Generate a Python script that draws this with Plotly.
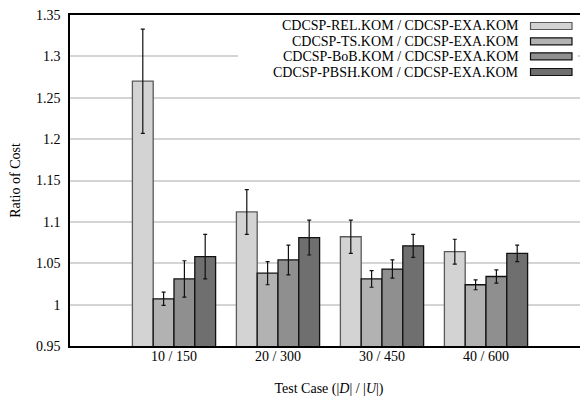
import plotly.graph_objects as go

categories = ["10 / 150", "20 / 300", "30 / 450", "40 / 600"]
series_names = [
    "CDCSP-REL.KOM / CDCSP-EXA.KOM",
    "CDCSP-TS.KOM / CDCSP-EXA.KOM",
    "CDCSP-BoB.KOM / CDCSP-EXA.KOM",
    "CDCSP-PBSH.KOM / CDCSP-EXA.KOM",
]
rel_values = [1.270, 1.112, 1.082, 1.064]
rel_errors = [0.063, 0.027, 0.020, 0.015]
ts_values = [1.007, 1.038, 1.031, 1.024]
ts_errors = [0.008, 0.014, 0.010, 0.006]
bob_values = [1.031, 1.054, 1.043, 1.034]
bob_errors = [0.022, 0.018, 0.011, 0.008]
pbsh_values = [1.058, 1.081, 1.071, 1.062]
pbsh_errors = [0.027, 0.021, 0.014, 0.010]
y_ticks = [0.95, 1.0, 1.05, 1.1, 1.15, 1.2, 1.25, 1.3, 1.35]
y_tick_labels = ["0.95", "1", "1.05", "1.1", "1.15", "1.2", "1.25", "1.3", "1.35"]

fill_colors = ["#d3d3d3", "#b2b2b2", "#8f8f8f", "#6f6f6f"]
line_colors = ["#5a5a5a", "#111111", "#111111", "#111111"]
all_values = [rel_values, ts_values, bob_values, pbsh_values]
all_errors = [rel_errors, ts_errors, bob_errors, pbsh_errors]
x_pos = list(range(1, len(categories) + 1))

FONT = "Liberation Serif, Times New Roman, serif"

fig = go.Figure()
for name, vals, errs, fc, lc in zip(series_names, all_values, all_errors, fill_colors, line_colors):
    fig.add_trace(go.Bar(
        x=x_pos, y=vals, name=name,
        marker=dict(color=fc, line=dict(color=lc, width=1.3)),
        error_y=dict(type="data", array=errs, visible=True, color="#111111", thickness=1.2, width=2),
        base=0,
        showlegend=False,
    ))

# page body has an 8px margin; figure is sized to fill the rest of the window
OFF = 8
W, H = 588 - OFF, 408 - OFF
# plot area in window (reference) pixels
X0, X1, Y0, Y1 = 70, 588, 15, 346
ml, mr, mt, mb = X0 - OFF, 0, Y0 - OFF, (H + OFF) - Y1
pw = X1 - X0
ph = Y1 - Y0

def px(xp):
    return (xp - X0) / pw

def py(yp):
    return (Y1 - yp) / ph

shapes = [
    dict(type="rect", xref="paper", yref="paper", x0=px(238), x1=px(578), y0=py(82), y1=py(16),
         fillcolor="white", line=dict(width=0), layer="above"),
]
annotations = []
row_y = [26, 41.3, 56.3, 72]
for i, name in enumerate(series_names):
    annotations.append(dict(
        xref="paper", yref="paper", x=px(521), y=py(row_y[i]), text=name, showarrow=False,
        xanchor="right", yanchor="middle", font=dict(family=FONT, size=14, color="black"),
    ))
    shapes.append(dict(
        type="rect", xref="paper", yref="paper", x0=px(530.5), x1=px(572), y0=py(row_y[i] + 3.5),
        y1=py(row_y[i] - 3.5), fillcolor=fill_colors[i], line=dict(color=line_colors[i], width=1.2),
        layer="above",
    ))

fig.update_layout(
    width=W, height=H,
    margin=dict(l=ml, r=mr, t=mt, b=mb, autoexpand=False),
    barmode="group", bargap=0.2, bargroupgap=0,
    plot_bgcolor="white", paper_bgcolor="white",
    font=dict(family=FONT, size=14, color="black"),
    shapes=shapes, annotations=annotations,
    xaxis=dict(
        range=[0, pw / 104.0], tickvals=x_pos, ticktext=categories, automargin=False,
        showgrid=False, zeroline=False, showline=True, linecolor="black", linewidth=1.5,
        mirror=True, ticks="", tickfont=dict(family=FONT, size=14), ticklabelstandoff=-4,
        title=dict(text="Test Case (|<i>D</i>| / |<i>U</i>|)", font=dict(family=FONT, size=14), standoff=21),
    ),
    yaxis=dict(
        range=[0.95, 1.35], tickvals=y_ticks, ticktext=y_tick_labels, automargin=False,
        ticklabeloverflow="allow",
        showgrid=True, gridcolor="#d4d4d4", gridwidth=1.5, zeroline=False,
        showline=True, linecolor="black", linewidth=1.5, ticks="", ticklabelstandoff=5,
        tickfont=dict(family=FONT, size=14),
        title=dict(text="Ratio of Cost", font=dict(family=FONT, size=14), standoff=12),
    ),
)

fig.write_html("out.html")
